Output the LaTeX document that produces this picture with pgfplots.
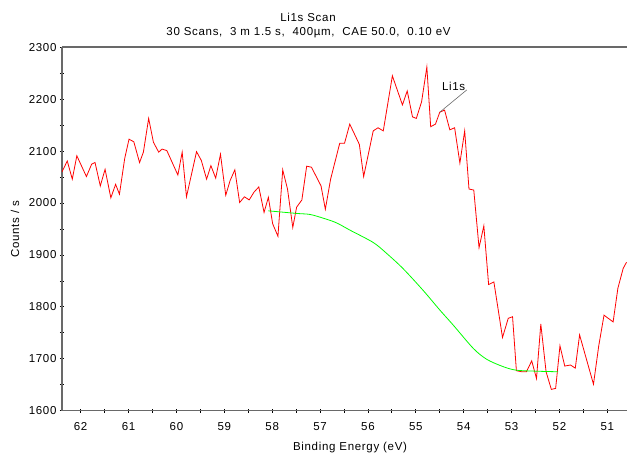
\documentclass[border=0pt]{standalone}
\usepackage{pgfplots}
\pgfplotsset{compat=1.18}
\usepackage{pgfplotstable}
\usepackage{fontspec}
\setmainfont{Liberation Sans}[LetterSpace=6]
\definecolor{axgray}{RGB}{105,105,105}
\definecolor{specred}{RGB}{255,0,0}
\definecolor{bggreen}{RGB}{0,255,0}
\pgfplotstableread{
x y
62.39 2060
62.28 2081
62.175 2046
62.08 2091
61.88 2051
61.77 2075
61.70 2078
61.59 2033
61.49 2065
61.37 2010
61.27 2036
61.19 2017
61.08 2086
60.99 2123
60.89 2118
60.77 2078
60.69 2098
60.58 2163
60.48 2117
60.37 2098
60.30 2104
60.20 2101
59.97 2054
59.88 2098
59.79 2012
59.58 2099
59.48 2082
59.37 2046
59.28 2072
59.18 2048
59.08 2094
58.97 2015
58.88 2043
58.78 2064
58.68 2001
58.58 2012
58.48 2006
58.38 2021
58.28 2031
58.17 1982
58.08 2011
57.99 1960
57.88 1936
57.78 2064
57.68 2027
57.57 1953
57.49 1992
57.38 2006
57.28 2071
57.18 2069
56.98 2033
56.89 1988
56.78 2046
56.59 2115
56.49 2115
56.38 2152
56.18 2113
56.09 2051
55.89 2139
55.79 2145
55.68 2139
55.49 2245
55.28 2189
55.18 2216
55.07 2166
54.99 2163
54.88 2195
54.77 2262
54.69 2147
54.59 2152
54.50 2175
54.40 2179
54.29 2141
54.19 2145
54.08 2077
53.98 2139
53.89 2027
53.79 2025
53.68 1914
53.58 1956
53.48 1843
53.37 1848
53.19 1741
53.07 1778
52.98 1781
52.90 1677
52.79 1675
52.69 1675
52.58 1696
52.48 1662
52.39 1767
52.28 1675
52.17 1641
52.08 1643
51.99 1725
51.89 1686
51.77 1688
51.67 1682
51.58 1746
51.29 1651
51.18 1725
51.07 1784
50.88 1771
50.78 1836
50.67 1874
50.60 1886
}\spectrum
\pgfplotstableread{
x y
58.08 1985
57.49 1980
57.21 1978
56.94 1971
56.66 1962
56.38 1948
55.89 1924
55.61 1903
55.27 1874
54.85 1832
54.50 1794
54.22 1765
53.80 1720
53.52 1699
53.18 1685
52.90 1678
52.45 1676
52.03 1675
}\background
\begin{document}
\begin{tikzpicture}[x=1pt,y=1pt]
\useasboundingbox (0,0) rectangle (627,454);
\begin{axis}[
  at={(62pt,43.3pt)}, anchor=south west,
  scale only axis, width=565pt, height=363.4pt,
  x dir=reverse,
  xmin=50.59, xmax=62.39, ymin=1600, ymax=2300,
  axis x line=box, axis y line=left,
  axis line style={axgray, line width=1.6pt, -},
  xtick={51,52,...,62}, minor x tick num=1,
  ytick={1600,1700,...,2300}, minor y tick num=1,
  tick align=center, major tick length=4pt, minor tick length=4pt,
  tick style={black, line width=0.8pt},
  every tick label/.append style={font=\fontsize{11.5}{13}\selectfont},
  xticklabel style={yshift=-6pt},
  xtick pos=bottom, ytick pos=left,
  /pgf/number format/assume math mode=true,
  /pgf/number format/1000 sep={},
  clip=true,
]
\addplot[specred, line width=0.8pt] table[x=x,y=y] {\spectrum};
\addplot[bggreen, line width=0.8pt, smooth] table[x=x,y=y] {\background};
\draw[axgray, line width=0.6pt] (axis cs:54.50,2175) -- (axis cs:53.935,2218);
\node[font=\fontsize{11.5}{13}\selectfont] at (axis cs:54.21,2224.5) {Li1s};
\end{axis}
\node[font=\fontsize{11.5}{13}\selectfont] at (308,436.7) {Li1s Scan};
\node[font=\fontsize{11.5}{13}\selectfont] at (308.5,421.7) {30 Scans,\ \ 3 m 1.5 s,\ \ 400µm,\ \ CAE 50.0,\ \ 0.10 eV};
\node[font=\fontsize{11.5}{13}\selectfont] at (350,6.3) {Binding Energy (eV)};
\node[font=\fontsize{11.5}{13}\selectfont, rotate=90] at (15,225) {Counts / s};
\end{tikzpicture}
\end{document}
